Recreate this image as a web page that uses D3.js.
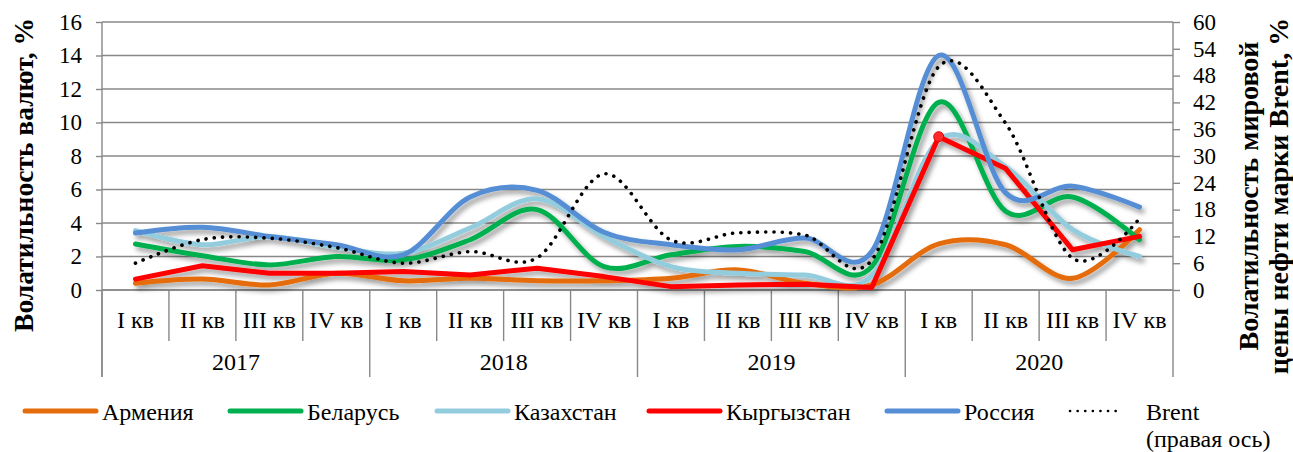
<!DOCTYPE html>
<html>
<head>
<meta charset="utf-8">
<script src="https://cdn.jsdelivr.net/npm/d3@7"></script>
<style>
  body { margin: 0; background: #fff; }
  svg text { font-family: "Liberation Serif", "Times New Roman", serif; fill: #000; }
</style>
</head>
<body>
<div id="container"></div>
<script>
// categories
var quarters = ["I кв", "II кв", "III кв", "IV кв"];
var years = ["2017", "2018", "2019", "2020"];

// series values (left axis, %)
var armenia    = [0.4, 0.65, 0.3, 1.0,  0.55, 0.7, 0.55, 0.55,  0.7, 1.2, 0.4, 0.3,   2.75, 2.7, 0.7, 3.6];
var belarus    = [2.75, 2.05, 1.5, 2.0, 1.8, 3.0, 4.8, 1.4,     2.1, 2.6, 2.3, 1.4,   11.2, 4.7, 5.55, 3.0];
var kazakhstan = [3.55, 2.7, 3.2, 2.55, 2.2, 3.7, 5.45, 3.2,    1.4, 1.0, 0.9, 0.85,  8.95, 7.35, 3.6, 2.0];
var kyrgyzstan = [0.65, 1.45, 1.0, 1.0, 1.1, 0.9, 1.3, 0.8,     0.2, 0.3, 0.35, 0.15, 9.15, 7.25, 2.4, 3.2];
var russia     = [3.4, 3.75, 3.2, 2.7,  2.1, 5.55, 5.95, 3.45,  2.7, 2.4, 3.1, 2.3,   14.0, 5.8, 6.2, 4.95];
// right axis, %
var brent      = [6, 11.3, 11.6, 9.5,   6, 8.6, 7.2, 26,        11.2, 12.8, 12.3, 6.7, 50, 37.3, 7.1, 16];

var leftTicks = [0, 2, 4, 6, 8, 10, 12, 14, 16];
var rightTicks = [0, 6, 12, 18, 24, 30, 36, 42, 48, 54, 60];

var W = 1293, H = 452;
var plotL = 102, plotR = 1173, plotT = 22, plotB = 290;

var svg = d3.select("#container").append("svg")
  .attr("width", W).attr("height", H);

var defs = svg.append("defs");
var f = defs.append("filter").attr("id", "shadow")
  .attr("x", "-5%").attr("y", "-20%").attr("width", "110%").attr("height", "140%");
f.append("feDropShadow").attr("dx", 3).attr("dy", 4).attr("stdDeviation", 2.5)
  .attr("flood-color", "#000").attr("flood-opacity", 0.38);

// scales
var cats = [];
years.forEach(function(yr) { quarters.forEach(function(q) { cats.push(yr + "|" + q); }); });

var x = d3.scaleBand().domain(cats).range([plotL, plotR]).padding(0);
var y = d3.scaleLinear().domain([0, 16]).range([plotB, plotT]);
var y2 = d3.scaleLinear().domain([0, 60]).range([plotB, plotT]);

var gridColor = "#888888";

// gridlines
svg.append("g")
  .selectAll("line")
  .data(leftTicks)
  .enter().append("line")
  .attr("x1", plotL).attr("x2", plotR)
  .attr("y1", function(d) { return y(d); })
  .attr("y2", function(d) { return y(d); })
  .attr("stroke", gridColor).attr("stroke-width", 1.4);

// left axis
var gl = svg.append("g").attr("transform", "translate(" + plotL + ",0)")
  .call(d3.axisLeft(y).tickValues(leftTicks).tickSize(6).tickPadding(14));
gl.select(".domain").remove();
gl.selectAll("line").attr("stroke", gridColor).attr("stroke-width", 1.4);
gl.selectAll("text").attr("font-size", 23).attr("font-family", "Liberation Serif");
svg.append("line").attr("x1", plotL).attr("x2", plotL).attr("y1", plotT).attr("y2", 377)
  .attr("stroke", gridColor).attr("stroke-width", 1.4);

// right axis
var gr = svg.append("g").attr("transform", "translate(" + plotR + ",0)")
  .call(d3.axisRight(y2).tickValues(rightTicks).tickSize(7).tickPadding(13));
gr.select(".domain").remove();
gr.selectAll("line").attr("stroke", gridColor).attr("stroke-width", 1.4);
gr.selectAll("text").attr("font-size", 23).attr("font-family", "Liberation Serif");
svg.append("line").attr("x1", plotR).attr("x2", plotR).attr("y1", plotT).attr("y2", 377)
  .attr("stroke", gridColor).attr("stroke-width", 1.4);

// category axis (two levels)
var xa = svg.append("g");
xa.append("line").attr("x1", plotL).attr("x2", plotR).attr("y1", plotB).attr("y2", plotB)
  .attr("stroke", gridColor).attr("stroke-width", 1.4);
xa.selectAll("line.sep")
  .data(cats)
  .enter().append("line")
  .attr("class", "sep")
  .attr("x1", function(d) { return x(d); })
  .attr("x2", function(d) { return x(d); })
  .attr("y1", plotB)
  .attr("y2", function(d, i) { return i % 4 == 0 ? 377 : 341; })
  .attr("stroke", gridColor).attr("stroke-width", 1.4);
xa.selectAll("text.q")
  .data(cats)
  .enter().append("text")
  .attr("class", "q")
  .attr("x", function(d) { return x(d) + x.bandwidth() / 2; })
  .attr("y", 328)
  .attr("text-anchor", "middle")
  .attr("font-size", 24)
  .text(function(d) { return d.split("|")[1]; });
xa.selectAll("text.yr")
  .data(years)
  .enter().append("text")
  .attr("class", "yr")
  .attr("x", function(d) { return (x(d + "|" + quarters[0]) + x(d + "|" + quarters[3]) + x.bandwidth()) / 2; })
  .attr("y", 370)
  .attr("text-anchor", "middle")
  .attr("font-size", 24)
  .text(function(d) { return d; });

// axis titles
svg.append("text")
  .attr("transform", "translate(33,175) rotate(-90)")
  .attr("text-anchor", "middle")
  .attr("font-size", 27.5).attr("font-weight", "bold")
  .text("Волатильность валют, %");
var rt = svg.append("text")
  .attr("transform", "translate(1258,196) rotate(-90)")
  .attr("text-anchor", "middle")
  .attr("font-size", 28).attr("font-weight", "bold");
rt.append("tspan").attr("x", 0).attr("dy", 0).text("Волатильность мировой");
rt.append("tspan").attr("x", 0).attr("dy", 30).text("цены нефти марки Brent, %");

// series
var series = [
  {name: "Армения",    values: armenia,    color: "#E46C0A", smooth: true},
  {name: "Беларусь",   values: belarus,    color: "#00B050", smooth: true},
  {name: "Казахстан",  values: kazakhstan, color: "#93CDDD", smooth: true},
  {name: "Кыргызстан", values: kyrgyzstan, color: "#FF0000", smooth: false},
  {name: "Россия",     values: russia,     color: "#558ED5", smooth: true}
];

var cx = function(d, i) { return x(cats[i]) + x.bandwidth() / 2; };

var plot = svg.append("g").attr("filter", "url(#shadow)");

series.forEach(function(s) {
  var line = d3.line()
    .x(cx)
    .y(function(d) { return y(d); })
    .curve(s.smooth ? d3.curveCatmullRom.alpha(0) : d3.curveLinear);
  plot.append("path")
    .datum(s.values)
    .attr("d", line)
    .attr("fill", "none")
    .attr("stroke", s.color)
    .attr("stroke-width", 5)
    .attr("stroke-linejoin", "round")
    .attr("stroke-linecap", "round");
});

// highlighted point on Kyrgyzstan, I кв 2020
plot.append("circle")
  .attr("cx", cx(null, 12))
  .attr("cy", y(kyrgyzstan[12]))
  .attr("r", 5)
  .attr("fill", "#ff2a2a")
  .attr("stroke", "#e00000");

var brentLine = d3.line()
  .x(cx)
  .y(function(d) { return y2(d); })
  .curve(d3.curveCatmullRom.alpha(0));
svg.append("path")
  .datum(brent)
  .attr("d", brentLine)
  .attr("fill", "none")
  .attr("stroke", "#000")
  .attr("stroke-width", 3.6)
  .attr("stroke-linecap", "round")
  .attr("stroke-dasharray", "0.1 8.2");

// legend
var legendItems = [
  {name: "Армения",    color: "#E46C0A", x: 25},
  {name: "Беларусь",   color: "#00B050", x: 230},
  {name: "Казахстан",  color: "#93CDDD", x: 437},
  {name: "Кыргызстан", color: "#FF0000", x: 649},
  {name: "Россия",     color: "#558ED5", x: 887}
];
var lg = svg.append("g");
var li = lg.selectAll("g")
  .data(legendItems)
  .enter().append("g")
  .attr("transform", function(d) { return "translate(" + d.x + ",411)"; });
li.append("line")
  .attr("x1", 0).attr("x2", 71)
  .attr("stroke", function(d) { return d.color; })
  .attr("stroke-width", 5)
  .attr("stroke-linecap", "round");
li.append("text")
  .attr("x", 77).attr("y", 9)
  .attr("font-size", 24)
  .text(function(d) { return d.name; });

lg.append("line")
  .attr("x1", 1070).attr("x2", 1123).attr("y1", 411).attr("y2", 411)
  .attr("stroke", "#000").attr("stroke-width", 2.6)
  .attr("stroke-linecap", "round").attr("stroke-dasharray", "0.1 7.5");
var bt = lg.append("text").attr("font-size", 24);
bt.append("tspan").attr("x", 1146).attr("y", 420).text("Brent");
bt.append("tspan").attr("x", 1146).attr("y", 447).text("(правая ось)");
</script>
</body>
</html>
